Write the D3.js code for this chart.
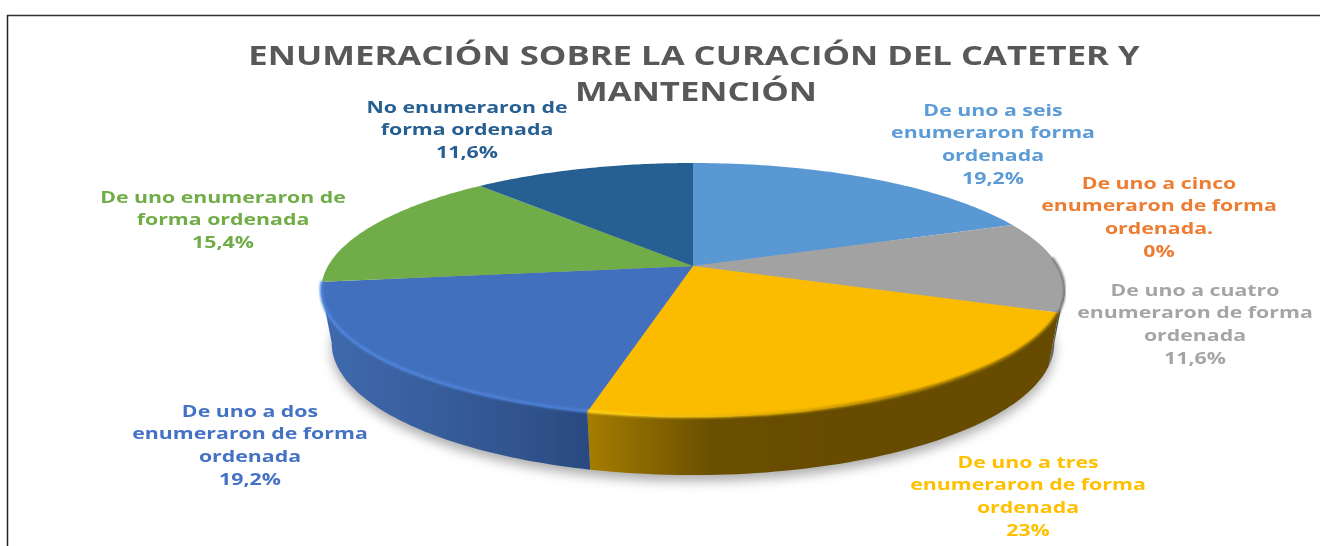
<!DOCTYPE html>
<html><head><meta charset="utf-8">
<script src="https://cdn.jsdelivr.net/npm/d3@7/dist/d3.min.js"></script>
<style>html,body{margin:0;padding:0;background:#fff;overflow:hidden}svg{display:block}</style>
</head><body><svg id="c" width="1320" height="546"></svg>
<script>
const titleLines = ["ENUMERACIÓN SOBRE LA CURACIÓN DEL CATETER Y", "MANTENCIÓN"];
const categories = [
  ["De uno a seis", "enumeraron forma", "ordenada"],
  ["De uno a cinco", "enumeraron de forma", "ordenada."],
  ["De uno a cuatro", "enumeraron de forma", "ordenada"],
  ["De uno a tres", "enumeraron de forma", "ordenada"],
  ["De uno a dos", "enumeraron de forma", "ordenada"],
  ["De uno enumeraron de", "forma ordenada"],
  ["No enumeraron de", "forma ordenada"]
];
const values = [19.2, 0, 11.6, 23, 19.2, 15.4, 11.6];
const colors = ["#5a98d4", "#ed7d31", "#a2a2a2", "#fbbc00", "#4270bf", "#70ac47", "#255e91"];
const labelColors = ["#5b9bd5", "#ed7d31", "#a5a5a5", "#ffc000", "#4472c4", "#70ad47", "#255e91"];
const labelCenters = [[993, 110.5], [1159, 183.5], [1195, 290.5], [1028, 462.5], [250, 411.5], [223, 197.5], [467, 107.5]];

const W = 1320, H = 546;
const svg = d3.select("#c").attr("viewBox", [0, 0, W, H]);
const defs = svg.append("defs");
defs.append("filter").attr("id", "soft").append("feGaussianBlur").attr("stdDeviation", 0.55);
defs.append("filter").attr("id", "softPie").attr("x", "-5%").attr("y", "-5%").attr("width", "110%").attr("height", "110%")
  .append("feGaussianBlur").attr("stdDeviation", 0.6);
defs.append("filter").attr("id", "shadow").attr("x", "-10%").attr("y", "-10%").attr("width", "120%").attr("height", "120%")
  .append("feGaussianBlur").attr("stdDeviation", 6);
defs.append("filter").attr("id", "bevel").attr("x", "-5%").attr("y", "-5%").attr("width", "110%").attr("height", "110%")
  .append("feGaussianBlur").attr("stdDeviation", 1.1);

function grad(id, stops, x1, x2) {
  const g = defs.append("linearGradient").attr("id", id).attr("gradientUnits", "userSpaceOnUse")
    .attr("x1", x1).attr("x2", x2).attr("y1", 0).attr("y2", 0);
  stops.forEach(s => g.append("stop").attr("offset", s[0]).attr("stop-color", s[1]));
}
grad("wallBlue", [[0, "#3f69ae"], [0.35, "#39609f"], [1, "#2a4a80"]], 325, 590);
grad("wallYellow", [[0, "#a47c00"], [0.5, "#6b5000"], [1, "#664c00"]], 590, 830);
grad("wallGray", [[0, "#6a6a6a"], [1, "#3f3f3f"]], 1050, 1066);
grad("rimBlue", [[0, "#4f86dc"], [1, "#4a7fd6"]], 325, 590);
grad("rimYellow", [[0, "#ffd21a"], [0.45, "#d9a400"], [0.8, "#7d5e00"], [1, "#6b5000"]], 590, 1060);

// Perspective projection of the unit pie disc on to the page
const cx = 693, cy = 266, persp = -0.189, kx = 365, ky = 72.2;
const topProj = a => {
  const x = Math.sin(a), y = -Math.cos(a), d = 1 + persp * y;
  return [cx + kx * x / d, (cy + ky * y) / d];
};
const ellipseCy = 290, wallCy = 343, wallScaleX = 0.972, wallScaleY = 1.04;
const botProj = a => {
  const p = topProj(a);
  return [cx + (p[0] - cx) * wallScaleX, wallCy + (p[1] - ellipseCy) * wallScaleY];
};
const arcs = d3.pie().sort(null).value(d => d)(values);
const samples = (a0, a1) => d3.range(0, 65).map(i => a0 + (a1 - a0) * i / 64);
const line = d3.line();

// drop shadow
const full = samples(0, 2 * Math.PI);
svg.append("path")
  .attr("d", line(full.map(a => { const p = botProj(a); return [p[0], p[1] + 6]; })) + "Z")
  .attr("fill", "#aaaaaa").attr("filter", "url(#shadow)");

const pieG = svg.append("g").attr("filter", "url(#softPie)");

// side walls (only the visible, near part)
const wallG = pieG.append("g");
const turn = Math.asin(-persp);
const frontFrom = Math.PI / 2 + turn, frontTo = 3 * Math.PI / 2 - turn;
const wallFill = { 2: "url(#wallGray)", 3: "url(#wallYellow)", 4: "url(#wallBlue)" };
arcs.forEach((d, i) => {
  const a0 = Math.max(d.startAngle, frontFrom), a1 = Math.min(d.endAngle, frontTo);
  if (a1 <= a0 || !wallFill[i]) return;
  const s = samples(a0, a1);
  const pts = s.map(topProj).concat(s.slice().reverse().map(botProj));
  wallG.append("path").attr("d", line(pts) + "Z").attr("fill", wallFill[i]);
});

// top faces
const faceG = pieG.append("g");
arcs.forEach((d, i) => {
  if (d.value === 0) return;
  const pts = [[cx, cy]].concat(samples(d.startAngle, d.endAngle).map(topProj));
  faceG.append("path").attr("d", line(pts) + "Z").attr("fill", colors[i]);
});

// bevel highlight along the near rim
[[3, "url(#rimYellow)"], [4, "url(#rimBlue)"]].forEach(([i, st]) => {
  const d = arcs[i];
  const s = samples(d.startAngle, d.endAngle);
  faceG.append("path").attr("d", line(s.map(topProj).map(p => [p[0], p[1] - 0.5])))
    .attr("fill", "none").attr("stroke", st).attr("stroke-width", 3).attr("filter", "url(#bevel)");
});
const grayArc = arcs[2];
faceG.append("path").attr("d", line(samples(1.5, grayArc.endAngle).map(topProj)))
  .attr("fill", "none").attr("stroke", "#5a5a5a").attr("stroke-width", 1.6).attr("filter", "url(#bevel)");

// frame
const frame = svg.append("g");
frame.append("line").attr("x1", 7).attr("y1", 15.5).attr("x2", W).attr("y2", 15.5).attr("stroke", "#333").attr("stroke-width", 1.5);
frame.append("line").attr("x1", 7.5).attr("y1", 15).attr("x2", 7.5).attr("y2", H).attr("stroke", "#222").attr("stroke-width", 1.5);

const font = "'Open Sans', sans-serif";
const textG = svg.append("g").attr("filter", "url(#soft)");
textG.selectAll("text.t").data(titleLines).join("text").attr("class", "t")
  .attr("transform", (d, i) => `translate(${694 + i * 2},${65 + i * 36}) scale(1.335,1)`)
  .attr("text-anchor", "middle").attr("font-family", font).attr("font-weight", 700)
  .attr("font-size", 26).attr("fill", "#595959").text(d => d);

const fmt = v => String(v).replace(".", ",") + "%";
categories.forEach((lines, i) => {
  const all = lines.concat(fmt(values[i]));
  const [lx, ly] = labelCenters[i];
  textG.append("g").selectAll("text").data(all).join("text")
    .attr("transform", (d, j) => `translate(${lx},${ly + j * 22.7 + 5.2}) scale(1.375,1)`)
    .attr("text-anchor", "middle").attr("font-family", font).attr("font-weight", 700)
    .attr("font-size", 15.5).attr("fill", labelColors[i]).text(d => d);
});
</script></body></html>
